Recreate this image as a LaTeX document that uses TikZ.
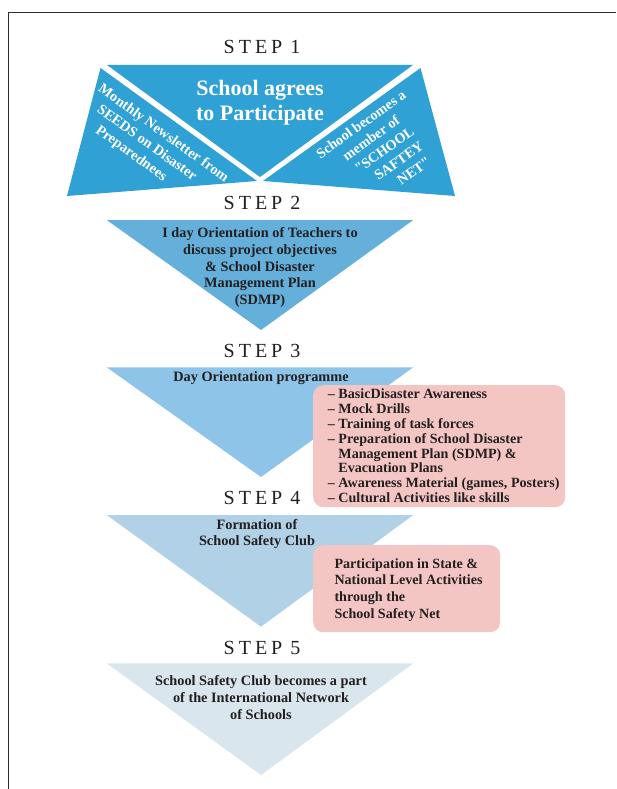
\documentclass[tikz,border=0pt]{standalone}
\usepackage{fontspec}
\setmainfont{Liberation Serif}[Ligatures=TeXOff]
\definecolor{sOne}{RGB}{47,161,212}
\definecolor{sTwo}{RGB}{100,176,218}
\definecolor{sThree}{RGB}{141,196,232}
\definecolor{sFour}{RGB}{176,209,230}
\definecolor{sFive}{RGB}{218,230,238}
\definecolor{pinkfill}{RGB}{244,198,195}
\definecolor{ink}{RGB}{35,31,32}
\definecolor{framecol}{RGB}{45,45,45}
\newcommand{\steptext}[1]{S\kern4pt T\kern4pt E\kern4pt P\kern8pt #1}
\begin{document}
\begin{tikzpicture}[x=1pt,y=-1pt,
  framestyle/.style={draw=framecol,line width=1.5pt},
  steplabel/.style={inner sep=0pt,anchor=base,text=ink,font=\fontsize{20}{20}\selectfont},
  bodytext/.style={inner sep=0pt,text=ink,align=center,font=\fontsize{14.3}{16.7}\selectfont\bfseries},
  whitetext/.style={inner sep=0pt,text=white,font=\fontsize{14.5}{17.6}\selectfont\bfseries},
  pinkbox/.style={fill=pinkfill,rounded corners=10pt,inner sep=0pt,anchor=north west},
  listtext/.style={inner sep=0pt,text=ink,align=left,anchor=north west,font=\fontsize{14.1}{14.9}\selectfont\bfseries}
]
\useasboundingbox (0,0) rectangle (616,789);
\fill[white] (0,0) rectangle (616,789);
\draw[framestyle] (8.5,789) -- (8.5,12.5) -- (616,12.5);

% step 1 shapes
\fill[sOne] (107,65) -- (413,65) -- (260,177) -- cycle;
\fill[sOne] (100.5,68) -- (257,181) -- (67,196) -- cycle;
\fill[sOne] (420.5,68) -- (455,196) -- (263,181) -- cycle;

% funnels
\fill[sTwo] (106.7,220) -- (413.3,220) -- (261,330) -- cycle;
\fill[sThree] (106.7,367.3) -- (413.3,367.3) -- (261,477) -- cycle;
\fill[sFour] (106.7,515) -- (413.3,515) -- (261,626.7) -- cycle;
\fill[sFive] (106.7,663.3) -- (413.3,663.3) -- (261,775) -- cycle;

% pink boxes
\node[pinkbox,minimum width=252pt,minimum height=122pt] (pinkA) at (313,385) {};
\node[pinkbox,minimum width=187pt,minimum height=87pt] (pinkB) at (313,545) {};

% step labels
\node[steplabel] (lab1) at (262,53.3) {\steptext{1}};
\node[steplabel] (lab2) at (262,209.3) {\steptext{2}};
\node[steplabel] (lab3) at (262,357.3) {\steptext{3}};
\node[steplabel] (lab4) at (262,504.3) {\steptext{4}};
\node[steplabel] (lab5) at (262,654.3) {\steptext{5}};

% step 1 texts
\node[inner sep=0pt,text=white,align=center,anchor=north,font=\fontsize{22}{25}\selectfont\bfseries] (agree) at (260,79.6) {School agrees\\to Participate};
\node[whitetext,align=left,rotate=-35.8] (newsletter) at (153,148) {Monthly Newsletter from\\\hspace*{11pt}SEEDS on Disaster\\\hspace*{22pt}Preparednees};
\node[whitetext,align=center,rotate=35.7,font=\fontsize{14.3}{17.2}\selectfont\bfseries] (member) at (381,152) {School becomes a\\member of\\\hspace*{8pt}"SCHOOL\\\hspace*{19pt}SAFTEY\\\hspace*{31pt}NET"};

% step 2
\node[bodytext,anchor=north] (orient) at (260,227.4) {I day Orientation of Teachers to\\discuss project objectives\\\& School Disaster\\Management Plan\\(SDMP)};

% step 3
\node[bodytext,anchor=base] (dayprog) at (261,381.7) {Day Orientation programme};
\node[listtext] (listA) at (327.7,388.5) {– BasicDisaster Awareness\\– Mock Drills\\– Training of task forces\\– Preparation of School Disaster\\\phantom{– }Management Plan (SDMP) \&\\\phantom{– }Evacuation Plans\\– Awareness Material (games, Posters)\\– Cultural Activities like skills};

% step 4
\node[bodytext,anchor=north] (club) at (257,519) {Formation of\\School Safety Club};
\node[listtext,font=\fontsize{14.1}{16.7}\selectfont\bfseries] (listB) at (334.3,558.3) {Participation in State \&\\National Level Activities\\through the\\School Safety Net};

% step 5
\node[bodytext,anchor=north] (network) at (261,675.7) {School Safety Club becomes a part\\of the International Network\\of Schools};
\end{tikzpicture}
\end{document}
